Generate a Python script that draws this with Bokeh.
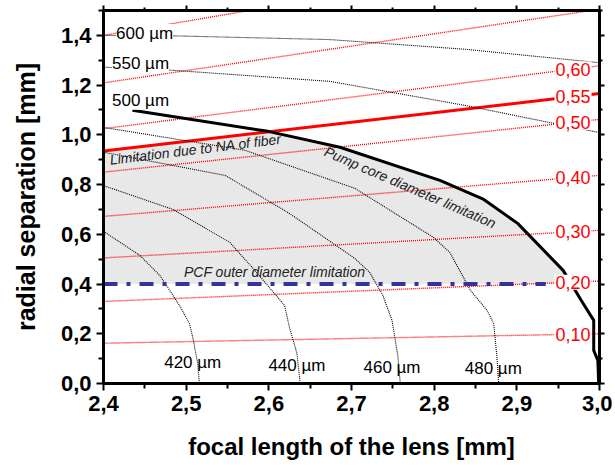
import numpy as np
from bokeh.plotting import figure
from bokeh.models import Range1d, LinearAxis, FixedTicker, Label, CustomJSTickFormatter
from bokeh.embed import file_html
from bokeh.resources import INLINE

# ---------------- data ----------------
x_ticks = [2.4, 2.5, 2.6, 2.7, 2.8, 2.9, 3.0]
x_tick_labels = ["2,4", "2,5", "2,6", "2,7", "2,8", "2,9", "3,0"]
x_minor = [2.45, 2.55, 2.65, 2.75, 2.85, 2.95]
y_ticks = [0.0, 0.2, 0.4, 0.6, 0.8, 1.0, 1.2, 1.4]
y_tick_labels = ["0,0", "0,2", "0,4", "0,6", "0,8", "1,0", "1,2", "1,4"]
y_minor = [0.1, 0.3, 0.5, 0.7, 0.9, 1.1, 1.3, 1.5]

# NA lines (labelled): radial separation at f = 2.4 mm and f = 3.0 mm
na_labels = ["0,60", "0,55", "0,50", "0,40", "0,30", "0,20", "0,10"]
na_r_left = [1.025, 0.935, 0.850, 0.672, 0.505, 0.330, 0.162]
na_r_right = [1.278, 1.166, 1.062, 0.837, 0.616, 0.412, 0.200]
# NA lines above the frame (unlabelled)
na_extra_left = [1.400, 1.209]
na_extra_right = [1.740, 1.505]
fiber_na_label = "0,55"

# spot-diameter contours (focal length f, radial separation r)
c420_f = [2.400, 2.444, 2.468, 2.492, 2.504, 2.508, 2.514, 2.516]
c420_r = [0.612, 0.515, 0.435, 0.314, 0.241, 0.185, 0.080, 0.000]
c440_f = [2.399, 2.484, 2.553, 2.583, 2.619, 2.625, 2.634, 2.638]
c440_r = [0.797, 0.700, 0.567, 0.455, 0.314, 0.225, 0.121, 0.000]
c460_f = [2.400, 2.547, 2.619, 2.632, 2.704, 2.722, 2.738, 2.749, 2.756, 2.759]
c460_r = [0.930, 0.837, 0.696, 0.668, 0.503, 0.447, 0.354, 0.254, 0.113, 0.000]
c480_f = [2.400, 2.571, 2.704, 2.799, 2.819, 2.844, 2.864, 2.872, 2.876, 2.878]
c480_r = [1.030, 0.938, 0.785, 0.588, 0.527, 0.374, 0.294, 0.241, 0.105, 0.000]
c500_f = [2.435, 2.599, 2.686, 2.807, 2.860, 2.901, 2.956, 2.978, 2.993, 2.993, 2.998, 2.999]
c500_r = [1.099, 1.014, 0.950, 0.817, 0.740, 0.644, 0.455, 0.334, 0.254, 0.133, 0.093, 0.000]
c550_f = [2.400, 2.482, 2.674, 2.838, 3.000]
c550_r = [1.272, 1.260, 1.215, 1.118, 1.009]
c600_f = [2.400, 2.486, 2.674, 2.838, 3.000]
c600_r = [1.400, 1.398, 1.383, 1.344, 1.290]

pcf_limit_r = 0.40
pcf_limit_f_end = 2.935
f_min, f_max = 2.4, 3.0

# ---------------- figure ----------------
FONT = "Liberation Sans"
p = figure(width=612, height=466, x_range=Range1d(f_min, f_max), y_range=Range1d(0, 1.5),
           output_backend="svg", toolbar_location=None,
           min_border_left=103, min_border_right=13, min_border_top=10, min_border_bottom=83)
p.grid.visible = False
p.outline_line_color = "black"
p.outline_line_width = 3
p.background_fill_color = "white"
p.border_fill_color = "white"

bottom = p.below[0]
left = p.left[0]
bottom.axis_label = "focal length of the lens [mm]"
left.axis_label = "radial separation [mm]"


def na_line(rl, rr, f):
    return rl + (rr - rl) * (f - f_min) / (f_max - f_min)


# grey admissible region
i55 = na_labels.index(fiber_na_label)
rl55, rr55 = na_r_left[i55], na_r_right[i55]
cf = np.array(c500_f)
cr = np.array(c500_r)
diff = cr - na_line(rl55, rr55, cf)
k = int(np.where((diff[:-1] > 0) & (diff[1:] <= 0))[0][0])
t = diff[k] / (diff[k] - diff[k + 1])
fx = cf[k] + t * (cf[k + 1] - cf[k])
rx = cr[k] + t * (cr[k + 1] - cr[k])
j = int(np.where((cr[:-1] >= pcf_limit_r) & (cr[1:] < pcf_limit_r))[0][0])
t2 = (cr[j] - pcf_limit_r) / (cr[j] - cr[j + 1])
f04 = cf[j] + t2 * (cf[j + 1] - cf[j])
inner = [(a, b) for a, b in zip(cf, cr) if a > fx and b > pcf_limit_r]
poly_f = [f_min, f_min, fx] + [a for a, b in inner] + [f04]
poly_r = [pcf_limit_r, na_line(rl55, rr55, f_min), rx] + [b for a, b in inner] + [pcf_limit_r]
p.patch(poly_f, poly_r, fill_color="#e8e8e8", line_color=None)

# NA lines
for rl, rr in zip(na_extra_left, na_extra_right):
    p.line([f_min, f_max], [rl, rr], line_color="red", line_width=1.4, line_dash="1 1")
for lab, rl, rr in zip(na_labels, na_r_left, na_r_right):
    if lab == fiber_na_label:
        p.line([f_min, f_max], [rl, rr], line_color="red", line_width=3)
    else:
        p.line([f_min, f_max], [rl, rr], line_color="red", line_width=1.4, line_dash="1 1")

# contours
for fs, rs in [(c420_f, c420_r), (c440_f, c440_r), (c460_f, c460_r), (c480_f, c480_r),
               (c550_f, c550_r), (c600_f, c600_r)]:
    p.line(fs, rs, line_color="black", line_width=1.1, line_dash="1 1")
p.line(c500_f, c500_r, line_color="black", line_width=3)

# PCF limit
p.line([f_min, pcf_limit_f_end], [pcf_limit_r, pcf_limit_r], line_color="#333399",
       line_width=4, line_dash="14 9 4 9")

# NA labels
for lab, rl, rr in zip(na_labels, na_r_left, na_r_right):
    fl = 2.968
    p.add_layout(Label(x=fl, y=na_line(rl, rr, fl), text=lab, text_align="center",
                       text_baseline="middle", text_color="red", text_font=FONT,
                       text_font_size="18px", background_fill_color="white", padding=1))

# contour labels
for txt, fx_, ry_, bg in [("600 µm", 2.4497, 1.408, "white"), ("550 µm", 2.4448, 1.288, "white"),
                          ("500 µm", 2.4448, 1.139, "white"), ("420 µm", 2.5079, 0.0845, None),
                          ("440 µm", 2.634, 0.0724, None), ("460 µm", 2.749, 0.0644, None),
                          ("480 µm", 2.8715, 0.0604, None)]:
    p.add_layout(Label(x=fx_, y=ry_, text=txt, text_align="center", text_baseline="middle",
                       text_color="black", text_font=FONT, text_font_size="17px",
                       background_fill_color=bg))

for txt, fx_, ry_, ang in [("Limitation due to NA of fiber", 2.5115, 0.942, 0.122),
                           ("Pump core diameter limitation", 2.771, 0.789, -0.407),
                           ("PCF outer diameter limitation", 2.607, 0.447, 0.0)]:
    p.add_layout(Label(x=fx_, y=ry_, text=txt, text_align="center", text_baseline="middle",
                       angle=ang, text_color="#222222", text_font=FONT, text_font_size="14px",
                       text_font_style="italic"))

# axes
xt = FixedTicker(ticks=x_ticks, minor_ticks=x_minor)
yt = FixedTicker(ticks=y_ticks, minor_ticks=y_minor)
bottom.ticker = xt
left.ticker = yt
bottom.major_label_overrides = dict(zip(x_ticks, x_tick_labels))
left.major_label_overrides = dict(zip(y_ticks, y_tick_labels))

top = LinearAxis(ticker=xt, formatter=CustomJSTickFormatter(code="return ''"))
right = LinearAxis(ticker=yt, formatter=CustomJSTickFormatter(code="return ''"))
p.add_layout(top, "above")
p.add_layout(right, "right")

for ax in [bottom, left, top, right]:
    ax.axis_line_width = 3
    ax.axis_line_color = "black"
    ax.major_tick_line_width = 2
    ax.minor_tick_line_width = 2
    ax.major_tick_in = 0
    ax.major_tick_out = 7
    ax.minor_tick_in = 0
    ax.minor_tick_out = 5
    ax.major_label_text_font = FONT
    ax.major_label_text_font_style = "bold"
    ax.major_label_text_font_size = "22px"
    ax.major_label_text_color = "black"
    ax.axis_label_text_font = FONT
    ax.axis_label_text_font_style = "bold"
    ax.axis_label_text_font_size = "25px"
    ax.axis_label_text_color = "black"

for ax in [top, right]:
    ax.major_label_text_font_size = "1px"
    ax.major_label_standoff = 0
    ax.major_tick_out = 5
    ax.minor_tick_out = 3

bottom.axis_label_text_font_size = "24px"
bottom.major_label_standoff = 5
bottom.axis_label_standoff = 19
left.major_label_standoff = 5
left.axis_label_standoff = 18

open("out.html", "w").write(file_html(p, INLINE))
